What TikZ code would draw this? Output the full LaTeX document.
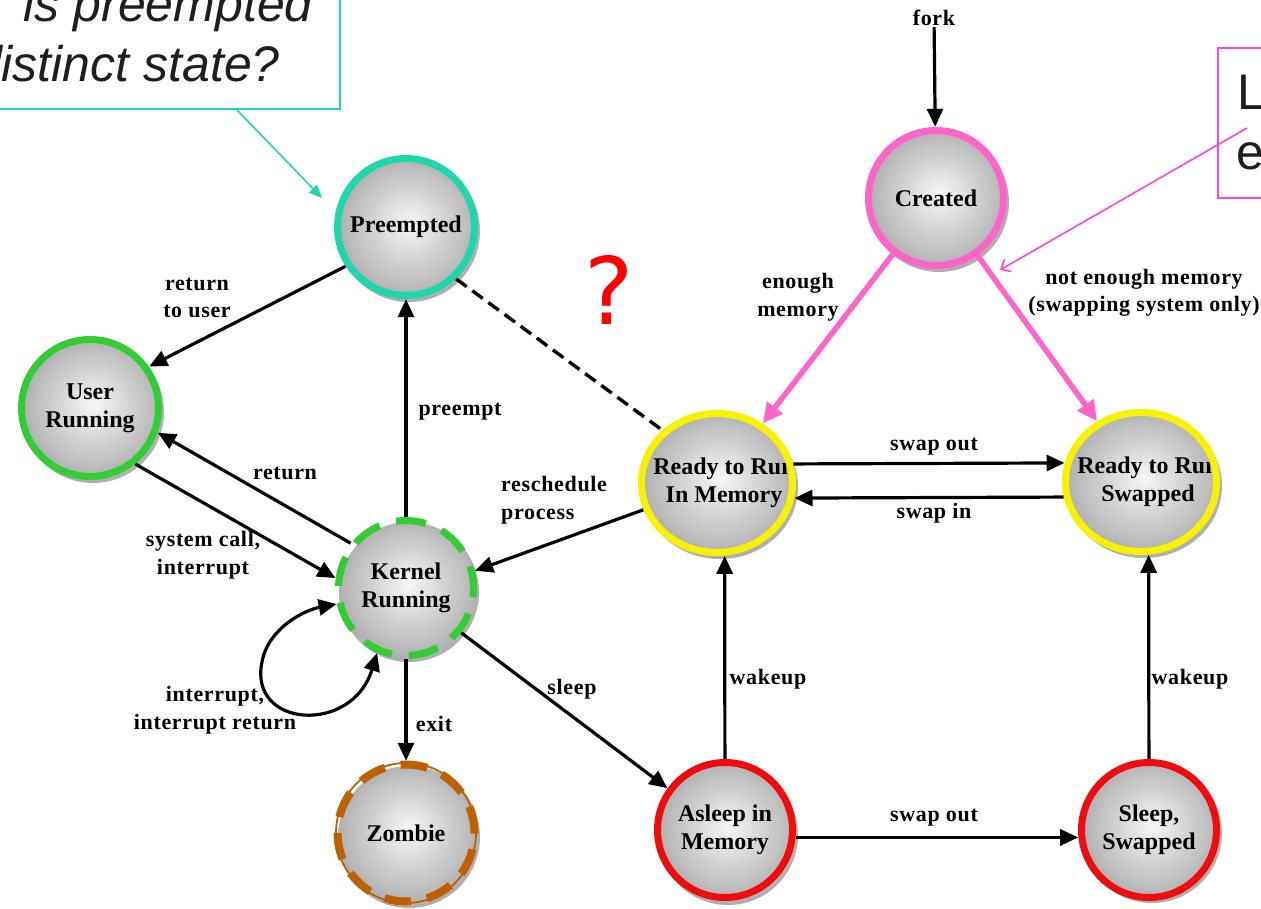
\documentclass[tikz,border=0pt]{standalone}
\usepackage{fontspec}
\setmainfont{Liberation Serif}
\newfontfamily\labelfont[LetterSpace=3]{Liberation Serif}
\newfontfamily\calloutfont{Liberation Sans}
\newfontfamily\markfont{DejaVu Sans}
\usetikzlibrary{arrows.meta,shapes.geometric}

\definecolor{ringgreen}{RGB}{50,205,50}
\definecolor{ringteal}{RGB}{30,215,170}
\definecolor{ringyellow}{RGB}{248,242,0}
\definecolor{ringred}{RGB}{240,12,12}
\definecolor{ringpink}{RGB}{255,100,200}
\definecolor{ringbrown}{RGB}{190,95,0}
\definecolor{notepink}{RGB}{255,70,210}
\definecolor{notetext}{RGB}{30,30,30}

% grey sphere behind every state
\pgfdeclareradialshading{ballgrey}{\pgfpoint{0bp}{3bp}}{%
  color(0bp)=(black!4); color(8bp)=(black!12); color(24bp)=(black!30);
  color(40bp)=(black!45); color(50bp)=(black!58)}

\tikzset{
  ball/.style={shading=ballgrey},
  state/.style={circle, minimum size=#1, inner sep=0pt, align=center,
    font=\fontsize{24}{28}\selectfont\bfseries},
  wstate/.style={ellipse, minimum width=158, minimum height=146, inner sep=0pt,
    font=\fontsize{24}{28}\selectfont\bfseries},
  ring/.style={draw=#1, line width=7pt},
  lbl/.style={align=center, inner sep=1pt, font=\labelfont\fontsize{22}{27.5}\selectfont\bfseries},
  tip/.tip={Triangle[length=18pt,width=16pt]},
  flow/.style={line width=3.2pt, -tip},
  flowboth/.style={line width=3.2pt, tip-tip},
  pinkflow/.style={draw=ringpink, line width=5.5pt, -{Triangle[length=20pt,width=19pt]}},
  dashline/.style={line width=3.4pt, dash pattern=on 13pt off 7pt},
  notebox/.style={line width=1.6pt, fill=white, inner sep=0pt},
  notetxt/.style={inner sep=0pt, text=notetext, font=\calloutfont\fontsize{50}{60}\selectfont},
}

\begin{document}
\begin{tikzpicture}[x=1pt,y=-1pt]
\useasboundingbox (0,0) rectangle (1261,909);

% spheres
\shade[ball] (409,231) circle[radius=71pt];
\shade[ball] (93,412) circle[radius=71pt];
\shade[ball] (409,592) circle[radius=70pt];
\shade[ball] (409,837) circle[radius=71pt];
\shade[ball] (939,202) circle[radius=70pt];
\shade[ball] (720,487) ellipse[x radius=78pt, y radius=72pt];
\shade[ball] (1144,486) ellipse[x radius=78pt, y radius=72pt];
\shade[ball] (728,835) circle[radius=70pt];
\shade[ball] (1152,833) circle[radius=70pt];

% states
\node[state=144] (pre) at (406,227) {Preempted};
\node[state=144] (user) at (90,408) {User\\Running};
\node[state=142] (kern) at (406,588) {Kernel\\Running};
\node[state=144] (zomb) at (406,833) {Zombie};
\node[state=142] (cre) at (936,198) {Created};
\node[wstate] (rmem) at (717,483) {\raisebox{-6pt}[0pt][0pt]{\makebox[0pt]{\hspace*{14pt}\begin{tabular}{@{}c@{}}Ready to Run\\In Memory\end{tabular}}}};
\node[wstate] (rswap) at (1141,482) {\raisebox{-6pt}[0pt][0pt]{\makebox[0pt]{\hspace*{14pt}\begin{tabular}{@{}c@{}}Ready to Run\\Swapped\end{tabular}}}};
\node[state=142] (asl) at (725,830) {Asleep in\\Memory};
\node[state=142] (sws) at (1149,830) {Sleep,\\Swapped};

% rings
\draw[ring=ringteal] (pre.center) circle[radius=68.5pt];
\draw[ring=ringgreen] (user.center) circle[radius=68.5pt];
\draw[ring=ringgreen, dash pattern=on 30pt off 17pt, dash phase=8pt] (kern.center) circle[radius=67.5pt];
\draw[draw=ringbrown, line width=1.8pt] (zomb.center) circle[radius=70pt];
\draw[ring=ringbrown, line width=8pt, dash pattern=on 27pt off 16pt] (zomb.center) circle[radius=68.5pt];
\draw[ring=ringpink] (cre.center) circle[radius=67.5pt];
\draw[ring=ringyellow] (rmem.center) ellipse[x radius=75.5pt, y radius=69.5pt];
\draw[ring=ringyellow] (rswap.center) ellipse[x radius=75.5pt, y radius=69.5pt];
\draw[ring=ringred] (asl.center) circle[radius=67.5pt];
\draw[ring=ringred] (sws.center) circle[radius=67.5pt];

% transition labels
\node[lbl] (forklbl) at (934,18) {fork};
\node[lbl] (lenough) at (798,297) {enough\\memory};
\node[lbl] (lnotenough) at (1144,293) {not enough memory\\(swapping system only)};
\node[lbl] (lretuser) at (197,298) {return\\to user};
\node[lbl] (lpreempt) at (460,412) {preempt};
\node[lbl] (lreturn) at (285,473) {return};
\node[lbl, align=left, anchor=west] (lresched) at (500,500) {reschedule\\process};
\node[lbl] (lsyscall) at (203,555) {system call,\\interrupt};
\node[lbl] (lintr) at (215,710) {interrupt,\\interrupt return};
\node[lbl] (lexit) at (434,724) {exit};
\node[lbl] (lsleep) at (572,689) {sleep};
\node[lbl] (lswapout) at (934,447) {swap out};
\node[lbl] (lswapin) at (934,513) {swap in};
\node[lbl] (lwake1) at (768,679) {wakeup};
\node[lbl] (lwake2) at (1190,679) {wakeup};
\node[lbl] (lswapout2) at (934,818) {swap out};

% transitions
\draw[flow] (forklbl) -- (cre);
\draw[pinkflow] (cre) -- (rmem);
\draw[pinkflow] (cre) -- (rswap);
\draw[flow] (pre.213) -- (user.35);
\draw[flow] (kern) -- (pre);
\draw[dashline] (pre.-46) -- (rmem.136);
\draw[flow] (kern.141) -- (user.-20);
\draw[flow] (user.-51) -- (kern.172);
\draw[flowboth] (kern.246) .. controls (352,735) and (248,728) .. (262,662)
  .. controls (268,628) and (305,610) .. (kern.193);
\draw[flow] (kern) -- (zomb);
\draw[flow] (kern.-39) -- (asl.144);
\draw[flow] (rmem.200) -- (kern.14);
\draw[flow] (rmem.14) -- (rswap.166);
\draw[flow] (rswap.191) -- (rmem.-11);
\draw[flow] (asl) -- (rmem.-84);
\draw[flow] (sws) -- (rswap.-84);
\draw[flow] (asl.-6) -- (sws.186);

% question mark
\node[inner sep=0pt, text=red, font=\markfont\fontsize{93}{100}\selectfont] (qmark) at (609,290) {?};

% callout on the left
\node[notebox, draw=ringteal, minimum width=500, minimum height=220, anchor=south east] (qbox) at (341,110) {};
\node[notetxt, font=\calloutfont\itshape\fontsize{50}{60}\selectfont, anchor=base east] (qline1) at (313,22) {is preempted};
\node[notetxt, font=\calloutfont\itshape\fontsize{50}{60}\selectfont, anchor=base east] (qline2) at (280,82) {distinct state?};
\coordinate (qfrom) at (237,110);
\coordinate (qto) at (322,198);
\draw[draw=ringteal, line width=1.6pt, -{Triangle[length=13pt,width=11pt]}] (qfrom) -- (qto);

% callout on the right
\node[notebox, draw=notepink, minimum width=300, minimum height=150, anchor=north west] (nbox) at (1217,47) {};
\node[notetxt, anchor=base west] (nline1) at (1237,110) {L};
\node[notetxt, anchor=base west] (nline2) at (1236,170) {e};
\coordinate (nfrom) at (1247,128);
\coordinate (nto) at (1000,270);
\draw[draw=notepink, line width=1.6pt, -{Straight Barb[length=8pt,width=14pt]}] (nfrom) -- (nto);
\end{tikzpicture}
\end{document}
